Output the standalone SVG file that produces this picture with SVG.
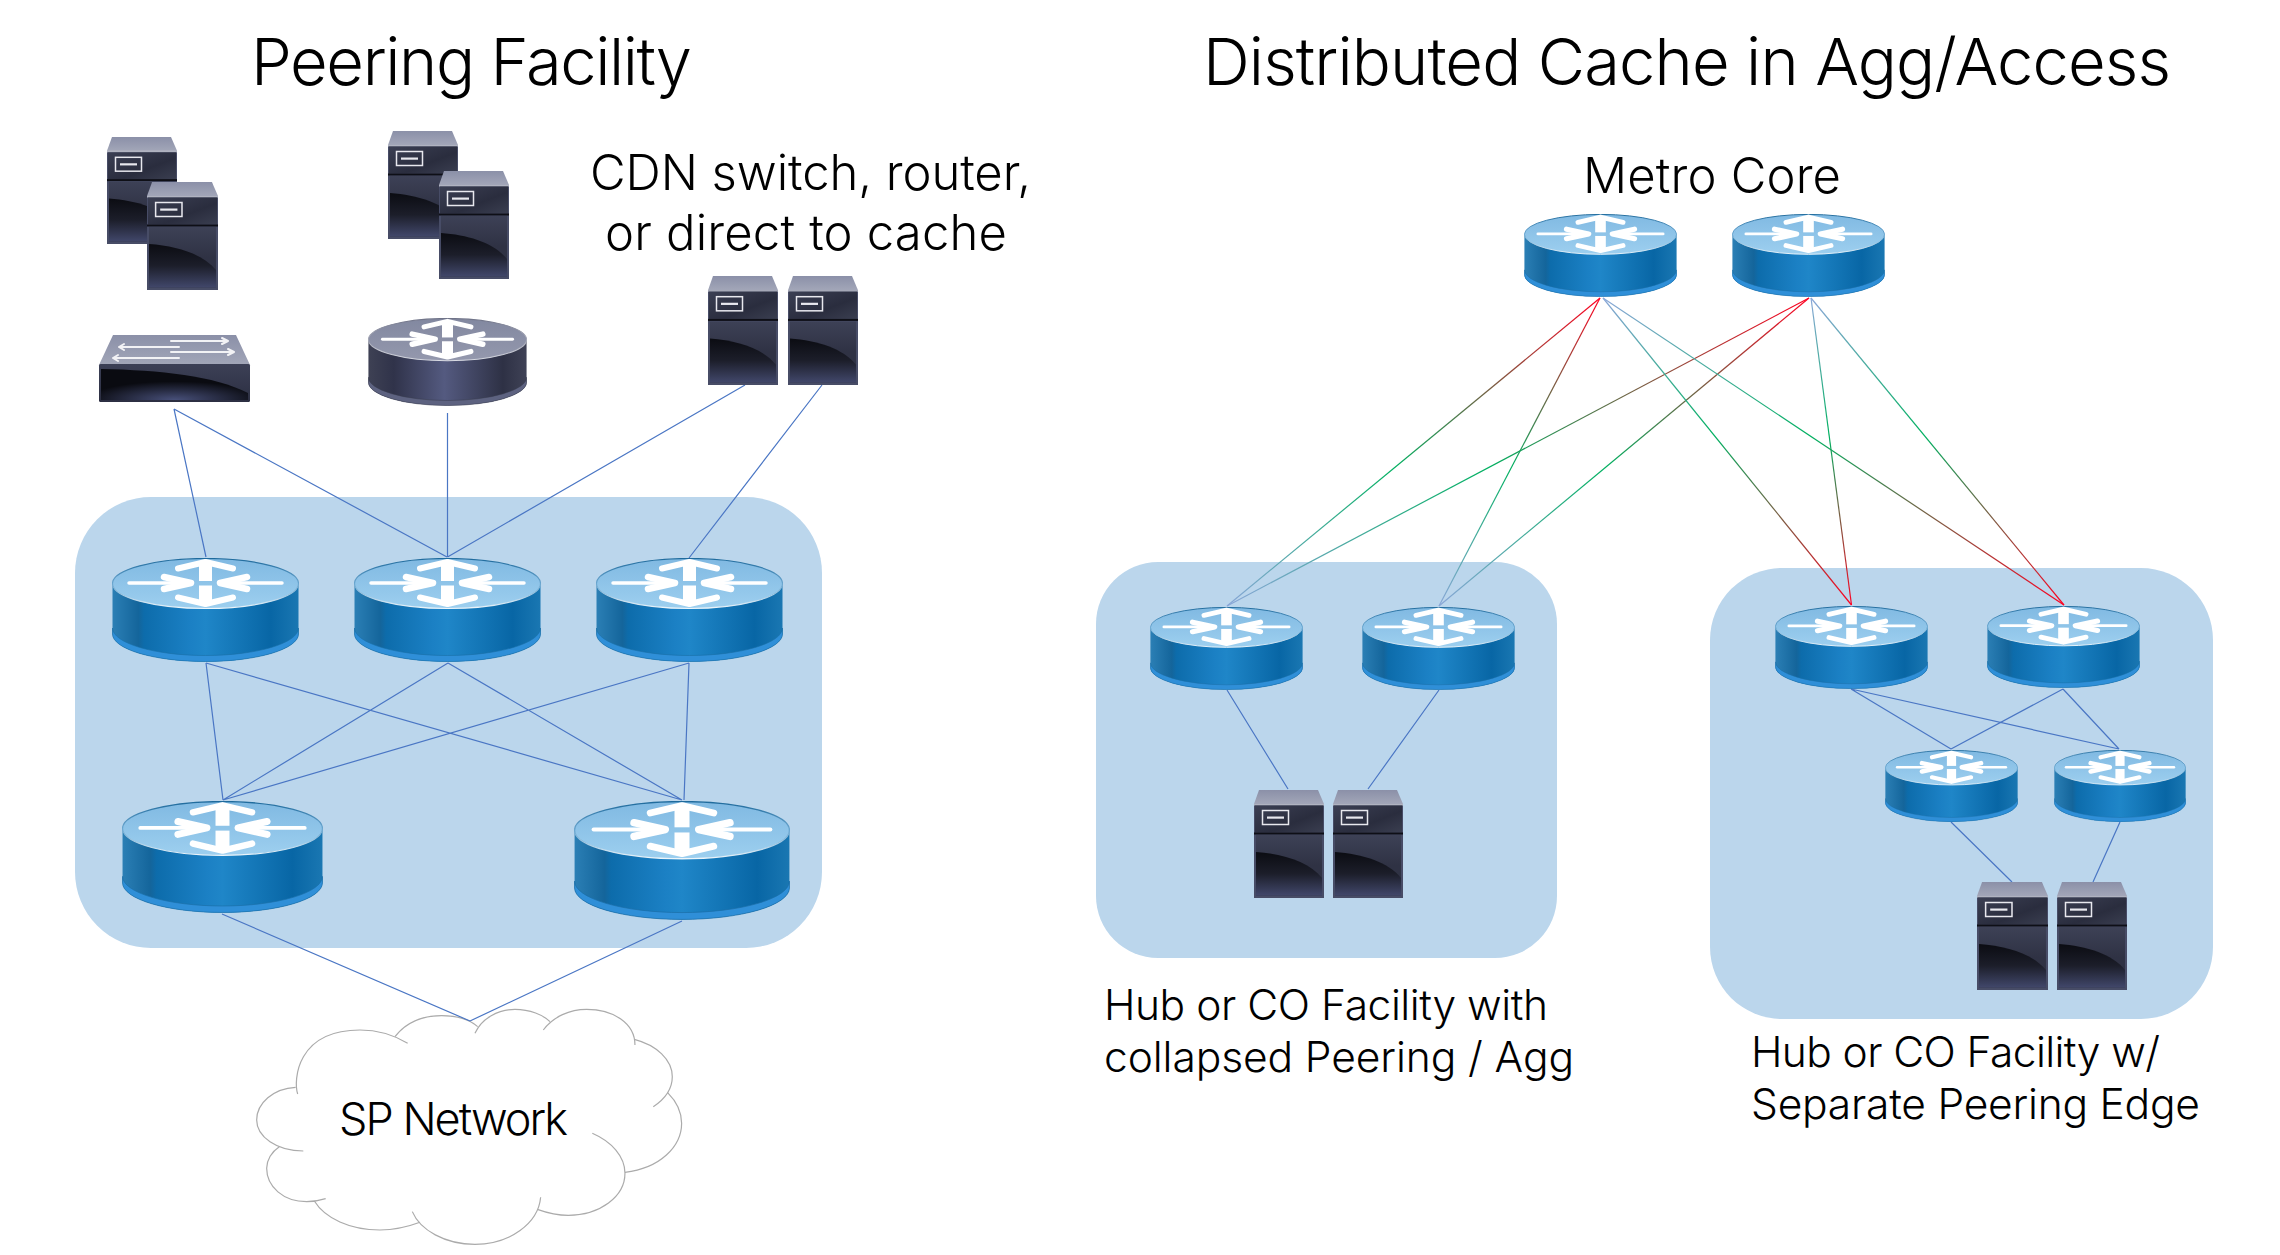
<svg xmlns="http://www.w3.org/2000/svg" xmlns:xlink="http://www.w3.org/1999/xlink" width="2280" height="1255" viewBox="0 0 2280 1255">
<style>
.zone{fill:#bbd6ec}
.lk{stroke:#4a76c4;stroke-width:1.2;fill:none}
.down{stroke:url(#rgbDown);stroke-width:1.2;fill:none}
.up{stroke:url(#rgbUp);stroke-width:1.2;fill:none}
.cl{fill:none;stroke:#ababab;stroke-width:3.6}
text{font-family:"Inter","Liberation Sans",sans-serif;font-weight:300;fill:#000}
.t{font-size:65px}.m{font-size:49px}.s{font-size:42.500px}
</style>
<defs>
<linearGradient id="rgbDown" x1="0" y1="0" x2="0" y2="1"><stop offset="0" stop-color="#ff0020"/><stop offset=".55" stop-color="#00b060"/><stop offset="1" stop-color="#8aa6d8"/></linearGradient>
<linearGradient id="rgbUp" x1="0" y1="0" x2="0" y2="1"><stop offset="0" stop-color="#8aa6d8"/><stop offset=".45" stop-color="#00b060"/><stop offset="1" stop-color="#ff0020"/></linearGradient>
<linearGradient id="bSide"><stop offset="0" stop-color="#2b7fb5"/><stop offset=".14" stop-color="#14659b"/><stop offset=".17" stop-color="#0d6cab"/><stop offset=".42" stop-color="#1b80c4"/><stop offset=".5" stop-color="#1f86c8"/><stop offset=".85" stop-color="#0866a5"/><stop offset="1" stop-color="#1a77b2"/></linearGradient>
<linearGradient id="bTop" x1="0" y1="0" x2="0" y2="1"><stop offset="0" stop-color="#80b9e2"/><stop offset="1" stop-color="#9dcfef"/></linearGradient>
<linearGradient id="bEdge" x1="0" y1="0" x2="0" y2="1"><stop offset="0" stop-color="#1e6a9c"/><stop offset=".5" stop-color="#6aa6cf"/><stop offset="1" stop-color="#eef6fb"/></linearGradient>
<linearGradient id="dSide"><stop offset="0" stop-color="#3e4154"/><stop offset=".16" stop-color="#30334a"/><stop offset=".48" stop-color="#545a80"/><stop offset=".85" stop-color="#2e3145"/><stop offset="1" stop-color="#3f4256"/></linearGradient>
<linearGradient id="dTop" x1="0" y1="0" x2="0" y2="1"><stop offset="0" stop-color="#8288a0"/><stop offset="1" stop-color="#9498ad"/></linearGradient>
<linearGradient id="dEdge" x1="0" y1="0" x2="0" y2="1"><stop offset="0" stop-color="#6f7388"/><stop offset="1" stop-color="#d8dae2"/></linearGradient>
<linearGradient id="sTop" x1="0" y1="0" x2="0" y2="1"><stop offset="0" stop-color="#8b90a8"/><stop offset="1" stop-color="#a2a6b8"/></linearGradient>
<linearGradient id="sUp" x1="0" y1="0" x2="1" y2="1"><stop offset="0" stop-color="#3b3f53"/><stop offset=".6" stop-color="#2a2d3e"/><stop offset="1" stop-color="#3a3e50"/></linearGradient>
<linearGradient id="sLow" x1="0" y1="0" x2="0" y2="1"><stop offset="0" stop-color="#3d4156"/><stop offset=".5" stop-color="#2f3244"/><stop offset="1" stop-color="#2f3244"/></linearGradient>
<linearGradient id="sGloss" x1="0" y1="0" x2="0" y2="1"><stop offset="0" stop-color="#0b0c12"/><stop offset=".5" stop-color="#1c1e2a"/><stop offset="1" stop-color="#41476a"/></linearGradient>
<linearGradient id="swFront" x1="0" y1="0" x2="0" y2="1"><stop offset="0" stop-color="#3c4056"/><stop offset="1" stop-color="#2c2f42"/></linearGradient>
<radialGradient id="swGloss" cx=".5" cy="1" r=".6"><stop offset="0" stop-color="#48507a"/><stop offset="1" stop-color="#0a0b11"/></radialGradient>
<g id="arrows" fill="#fff" stroke="#fff" stroke-linecap="round" stroke-linejoin="round">
<path d="M66 10.500L93.500 4L121 10.500" fill="none" stroke-width="6"/>
<path d="M87 23V6H100V23Z" stroke="none"/>
<path d="M66 39.500L93.500 46L121 39.500" fill="none" stroke-width="6"/>
<path d="M87 27.500V44H100V27.500Z" stroke="none"/>
<path d="M17 25H72" fill="none" stroke-width="3.500"/>
<path d="M52 19L79 25L52 31" fill="none" stroke-width="6.500"/>
<path d="M170 25H115" fill="none" stroke-width="3.500"/>
<path d="M135 19L108 25L135 31" fill="none" stroke-width="6.500"/>
</g>
<symbol id="routerBlue" viewBox="0 0 187 104" preserveAspectRatio="none">
<path d="M.5 25V76A93 27.500 0 0 0 186.500 76V25Z" fill="url(#bSide)"/>
<path d="M.5 70V76A93 27.500 0 0 0 186.500 76V70A93 27.500 0 0 1 .5 70Z" fill="#2f8fd8" stroke="#1a6ea6" stroke-width=".6"/>
<ellipse cx="93.500" cy="25.500" rx="93" ry="25" fill="url(#bTop)" stroke="url(#bEdge)" stroke-width="1.200"/>
<use href="#arrows"/>
</symbol>
<symbol id="routerDark" viewBox="0 0 187 104" preserveAspectRatio="none">
<path d="M.5 25V76A93 27.500 0 0 0 186.500 76V25Z" fill="url(#dSide)"/>
<path d="M.5 70V76A93 27.500 0 0 0 186.500 76V70A93 27.500 0 0 1 .5 70Z" fill="#5d6280" stroke="#3a3d50" stroke-width=".6"/>
<ellipse cx="93.500" cy="25.500" rx="93" ry="25" fill="url(#dTop)" stroke="url(#dEdge)" stroke-width="1.200"/>
<use href="#arrows"/>
</symbol>
<symbol id="server" viewBox="0 0 70 108" preserveAspectRatio="none">
<path d="M0 14L5 0H64L70 14Z" fill="url(#sTop)"/>
<rect x="0" y="14" width="70" height="94" fill="#474c66"/>
<rect x="0" y="14" width="70" height="1.500" fill="#b0b3c0"/>
<rect x="1" y="15.500" width="68" height="27" fill="url(#sUp)"/>
<rect x="0" y="42.500" width="70" height="2" fill="#0e0f16"/>
<rect x="2" y="45" width="66" height="60.500" fill="url(#sLow)"/>
<path d="M2 62C30 64 55 72 68 88V105.500H2Z" fill="url(#sGloss)"/>
<rect x="8.500" y="20.500" width="26" height="14" fill="none" stroke="#e8e8ee" stroke-width="1.500"/>
<rect x="13" y="26.500" width="17" height="2.200" fill="#e8e8ee"/>
</symbol>
</defs>
<rect width="2280" height="1255" fill="#fff"/>

<g id="zones">
<rect id="zone-peering" class="zone" x="75" y="497" width="747" height="451" rx="76"/>
<rect id="zone-collapsed" class="zone" x="1096" y="562" width="461" height="396" rx="62"/>
<rect id="zone-separate" class="zone" x="1710" y="568" width="503" height="451" rx="72"/>
</g>

<g id="cloud">
<g transform="translate(250 980) scale(.3333)">
<path class="cl" d="M143 342C130 300 140 150 330 150C390 150 440 170 473 190"/>
<path class="cl" d="M435 170C470 125 520 107 575 107C620 107 660 120 683 140"/>
<path class="cl" d="M675 160C695 115 745 88 795 88C840 88 880 105 900 125"/>
<path class="cl" d="M880 150C910 110 960 88 1010 88C1090 88 1155 130 1155 195"/>
<path class="cl" d="M1153 178C1220 195 1267 240 1267 290C1267 330 1240 360 1210 380"/>
<path class="cl" d="M1253 338C1280 365 1295 395 1295 430C1295 500 1230 565 1125 577"/>
<path class="cl" d="M1027 460C1085 485 1125 530 1125 580C1125 650 1050 706 955 706C920 706 890 698 862 688"/>
<path class="cl" d="M872 652C865 730 780 793 675 793C585 793 510 750 487 695"/>
<path class="cl" d="M510 727C470 742 430 750 390 750C300 750 225 715 193 663"/>
<path class="cl" d="M227 656C208 662 190 665 170 665C100 665 50 620 50 565C50 540 65 515 88 500"/>
<path class="cl" d="M160 513C80 513 20 470 20 420C20 370 70 325 137 322"/>
</g>
<text x="339" y="1135" style="font-size:45px" textLength="229">SP Network</text>
</g>

<g id="connectors">
<g class="lk">
<path d="M174 409L206 557M174 409L447 557M447.500 413V557M745 385L447.500 557M822 385L689 558"/>
<path d="M206 663L223 800M206 663L682 800M448 663L223 800M448 663L682 800M689 663L223 800M689 663L684 800"/>
<path d="M222 914L470 1021M682 921L470 1021"/>
<path d="M1227 690L1288 789M1439 690L1368 789"/>
<path d="M1851 689L1951 749M1851 689L2119 749M2063 689L1951 749M2063 689L2119 749M1951 822L2012 882M2120 822L2093 882"/>
</g>
<line class="down" x1="1600" y1="298" x2="1227" y2="606"/>
<line class="down" x1="1600" y1="298" x2="1439" y2="606"/>
<line class="down" x1="1809" y1="298" x2="1227" y2="606"/>
<line class="down" x1="1809" y1="298" x2="1439" y2="606"/>
<line class="up" x1="1603" y1="298" x2="1851.500" y2="605"/>
<line class="up" x1="1603" y1="298" x2="2064" y2="605"/>
<line class="up" x1="1811" y1="298" x2="1851.500" y2="605"/>
<line class="up" x1="1811" y1="298" x2="2064" y2="605"/>
</g>

<g id="srv-1"><use href="#server" x="107" y="137" width="70" height="107"/></g>
<g id="srv-2"><use href="#server" x="147" y="182" width="71" height="108"/></g>
<g id="srv-3"><use href="#server" x="388" y="131" width="70" height="108"/></g>
<g id="srv-4"><use href="#server" x="439" y="171" width="70" height="108"/></g>
<g id="switch">
<path d="M99 365L113 335H236L250 365Z" fill="url(#sTop)"/>
<rect x="99" y="364" width="151" height="38" rx="1.500" fill="url(#swFront)"/>
<path d="M101 369C160 370 215 376 248 393V400H101Z" fill="url(#swGloss)"/>
<g fill="none" stroke="#f2f2f5" stroke-width="2" stroke-linecap="round" stroke-linejoin="round">
<path d="M171 341H227M222 338L228 341L222 344"/>
<path d="M119 347H179M124 344L119 347L124 350"/>
<path d="M171 352H233M228 349L234 352L228 355"/>
<path d="M113 358H179M118 355L113 358L118 361"/>
</g>
</g>
<g id="router-dark"><use href="#routerDark" x="368" y="318" width="159" height="88"/></g>
<g id="srv-5"><use href="#server" x="708" y="276" width="70" height="109"/></g>
<g id="srv-6"><use href="#server" x="788" y="276" width="70" height="109"/></g>

<g id="r-1"><use href="#routerBlue" x="112" y="558" width="187" height="104"/></g>
<g id="r-2"><use href="#routerBlue" x="354" y="558" width="187" height="104"/></g>
<g id="r-3"><use href="#routerBlue" x="596" y="558" width="187" height="104"/></g>
<g id="r-4"><use href="#routerBlue" x="122" y="801" width="201" height="112"/></g>
<g id="r-5"><use href="#routerBlue" x="574" y="801" width="216" height="119"/></g>

<g id="metro-1"><use href="#routerBlue" x="1524" y="214" width="153" height="83"/></g>
<g id="metro-2"><use href="#routerBlue" x="1732" y="214" width="153" height="83"/></g>
<g id="c-1"><use href="#routerBlue" x="1150" y="607" width="153" height="83"/></g>
<g id="c-2"><use href="#routerBlue" x="1362" y="607" width="153" height="83"/></g>
<g id="srv-7"><use href="#server" x="1254" y="790" width="70" height="108"/></g>
<g id="srv-8"><use href="#server" x="1333" y="790" width="70" height="108"/></g>

<g id="tr-1"><use href="#routerBlue" x="1775" y="606" width="153" height="83"/></g>
<g id="tr-2"><use href="#routerBlue" x="1987" y="606" width="153" height="82"/></g>
<g id="sm-1"><use href="#routerBlue" x="1885" y="750" width="133" height="72"/></g>
<g id="sm-2"><use href="#routerBlue" x="2054" y="750" width="132" height="72"/></g>
<g id="srv-9"><use href="#server" x="1977" y="882" width="71" height="108"/></g>
<g id="srv-10"><use href="#server" x="2057" y="882" width="70" height="108"/></g>

<g id="labels">
<text class="t" x="251" y="85" textLength="441">Peering Facility</text>
<text class="t" x="1203" y="85" textLength="968">Distributed Cache in Agg/Access</text>
<text class="m" x="590" y="190" textLength="441">CDN switch, router,</text>
<text class="m" x="605" y="250" textLength="402">or direct to cache</text>
<text class="m" x="1583" y="193" textLength="258">Metro Core</text>
<text class="s" x="1104" y="1020" textLength="444">Hub or CO Facility with</text>
<text class="s" x="1104" y="1072" textLength="470">collapsed Peering / Agg</text>
<text class="s" x="1751" y="1067" textLength="409">Hub or CO Facility w/</text>
<text class="s" x="1751" y="1119" textLength="449">Separate Peering Edge</text>
</g>
</svg>
